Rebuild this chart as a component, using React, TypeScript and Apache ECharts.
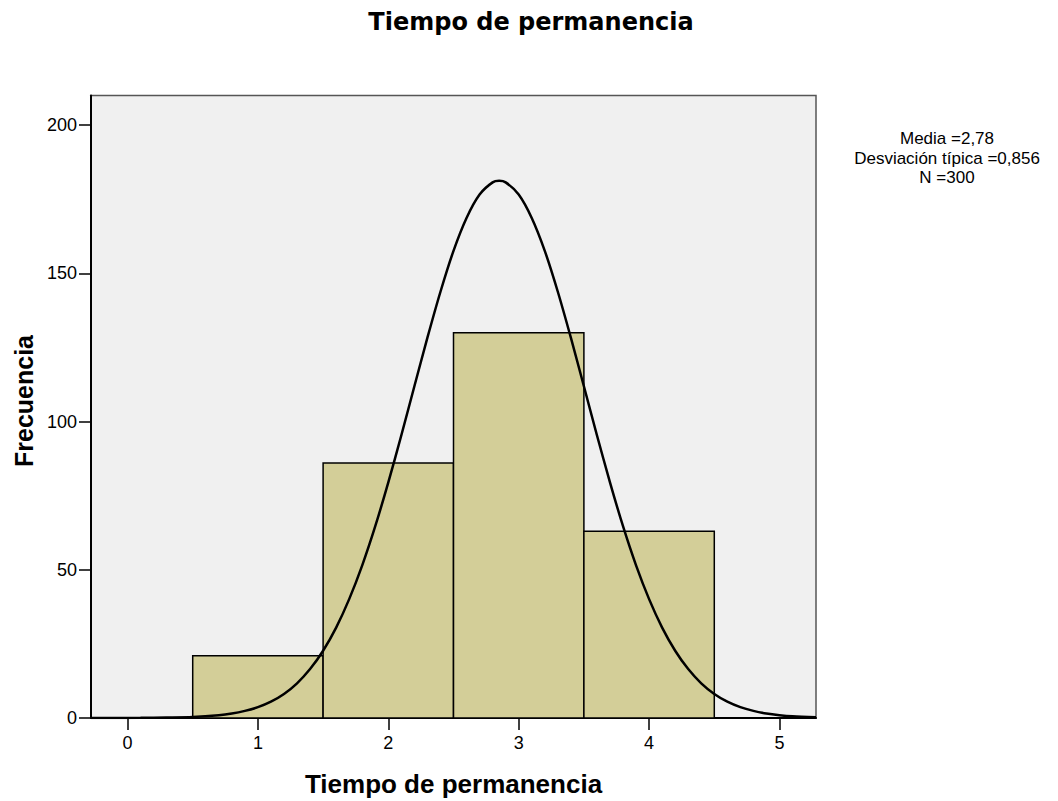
import React, { useEffect, useRef } from "react";
import * as echarts from "echarts";

const chartTitle = "Tiempo de permanencia";
const xAxisTitle = "Tiempo de permanencia";
const yAxisTitle = "Frecuencia";
const statsLines = ["Media =2,78", "Desviación típica =0,856", "N =300"];

const binCenters = [1, 2, 3, 4];
const binWidth = 1;
const frequencies = [21, 86, 130, 63];

const xTicks = [0, 1, 2, 3, 4, 5];
const yTicks = [0, 50, 100, 150, 200];

// Normal curve
const curveX = [
  -0.28, -0.1, 0.1, 0.3, 0.5, 0.7, 0.8, 0.9,
  1.0, 1.1, 1.2, 1.3, 1.4, 1.5, 1.6, 1.7, 1.8, 1.9,
  2.0, 2.1, 2.2, 2.3, 2.4, 2.5, 2.6, 2.7, 2.8, 2.85, 2.9,
  3.0, 3.1, 3.2, 3.3, 3.4, 3.5, 3.6, 3.7, 3.8, 3.9,
  4.0, 4.1, 4.2, 4.3, 4.4, 4.5, 4.6, 4.7, 4.8, 4.9,
  5.0, 5.1, 5.28,
];
const curveY = [
  0, 0, 0.05, 0.15, 0.33, 0.93, 1.5, 2.4,
  3.65, 5.5, 8.1, 11.7, 16.5, 22.7, 30.5, 40.1, 51.5, 64.7,
  79.5, 95.4, 111.9, 128.3, 143.8, 157.6, 168.7, 176.6, 180.7, 181.2, 180.7,
  176.6, 168.7, 157.6, 143.8, 128.3, 111.9, 95.4, 79.5, 64.7, 51.5,
  40.1, 30.5, 22.7, 16.5, 11.7, 8.1, 5.5, 3.65, 2.4, 1.5,
  0.93, 0.56, 0.25,
];

const W = 1058;
const H = 801;

export default function App() {
  const ref = useRef<HTMLDivElement>(null);

  useEffect(() => {
    if (!ref.current) return;
    const chart = echarts.init(ref.current, undefined, { renderer: "svg", width: W, height: H });

    const barData = binCenters.map((c, i) => [c, frequencies[i]]);
    const curveData = curveX.map((x, i) => [x, curveY[i]]);

    const gridLeft = 91;
    const gridRight = 242;
    const gridTop = 95.5;
    const gridBottom = 83;
    const plotCenterX = gridLeft + (W - gridLeft - gridRight) / 2;

    const statsSpacing = 19.5;
    const statsMidY = 158;
    const statsTexts = statsLines.map((line, i) => ({
      type: "text",
      x: 947,
      y: statsMidY + (i - 1) * statsSpacing,
      style: {
        text: line,
        fill: "#000",
        font: "17px 'Liberation Sans'",
        align: "center",
        verticalAlign: "middle",
      },
    }));

    chart.setOption({
      animation: false,
      backgroundColor: "#ffffff",
      grid: {
        left: gridLeft,
        right: gridRight,
        top: gridTop,
        bottom: gridBottom,
        show: true,
        backgroundColor: "#f0f0f0",
        borderColor: "#555555",
        borderWidth: 1.5,
      },
      xAxis: {
        type: "value",
        min: -0.28,
        max: 5.28,
        axisLine: { show: true, onZero: false, lineStyle: { color: "#000", width: 2 } },
        axisTick: { show: true, customValues: xTicks, length: 12, lineStyle: { color: "#000", width: 1.5 } },
        axisLabel: {
          customValues: xTicks,
          color: "#000",
          fontSize: 18,
          fontFamily: "Liberation Sans",
          margin: 16,
        },
        splitLine: { show: false },
      },
      yAxis: {
        type: "value",
        min: 0,
        max: 210,
        axisLine: { show: true, onZero: false, lineStyle: { color: "#000", width: 2 } },
        axisTick: { show: true, customValues: yTicks, length: 12, lineStyle: { color: "#000", width: 1.5 } },
        axisLabel: {
          customValues: yTicks,
          color: "#000",
          fontSize: 18,
          fontFamily: "Liberation Sans",
          margin: 14,
          padding: [6, 0, 0, 0],
        },
        splitLine: { show: false },
      },
      series: [
        {
          type: "custom",
          data: barData,
          encode: { x: 0, y: 1 },
          renderItem: (params: any, api: any) => {
            const c = api.value(0);
            const v = api.value(1);
            const p0 = api.coord([c - binWidth / 2, v]);
            const p1 = api.coord([c + binWidth / 2, 0]);
            return {
              type: "rect",
              shape: { x: p0[0], y: p0[1], width: p1[0] - p0[0], height: p1[1] - p0[1] },
              style: { fill: "#d3ce98", stroke: "#000", lineWidth: 1.5 },
            };
          },
          z: 2,
        },
        {
          type: "line",
          data: curveData,
          smooth: 0.3,
          showSymbol: false,
          symbol: "none",
          lineStyle: { color: "#000", width: 2.5 },
          z: 3,
        },
      ],
      graphic: [
        {
          type: "text",
          x: 531,
          y: 22,
          style: {
            text: chartTitle,
            fill: "#000",
            font: "bold 24px 'DejaVu Sans'",
            align: "center",
            verticalAlign: "middle",
          },
        },
        {
          type: "text",
          x: plotCenterX,
          y: 784,
          style: {
            text: xAxisTitle,
            fill: "#000",
            font: "bold 26px 'Liberation Sans'",
            align: "center",
            verticalAlign: "middle",
          },
        },
        {
          type: "text",
          x: 24,
          y: 401,
          rotation: Math.PI / 2,
          style: {
            text: yAxisTitle,
            fill: "#000",
            font: "bold 25px 'Liberation Sans'",
            align: "center",
            verticalAlign: "middle",
          },
        },
        ...statsTexts,
      ],
    });

    return () => {
      chart.dispose();
    };
  }, []);

  return (
    <div
      ref={ref}
      style={{ position: "fixed", left: 0, top: 0, width: W, height: H, background: "#fff" }}
    />
  );
}
